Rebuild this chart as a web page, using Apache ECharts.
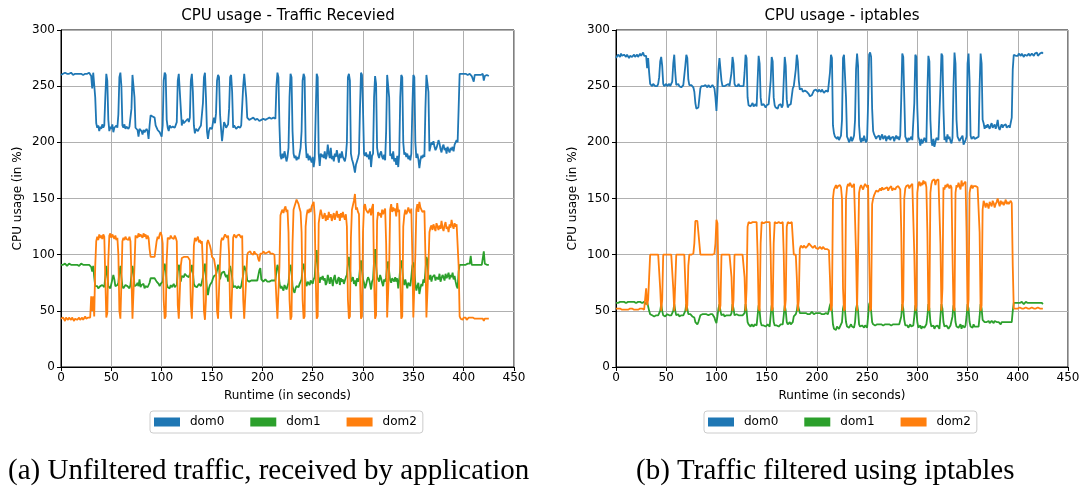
<!DOCTYPE html>
<html>
<head>
<meta charset="utf-8">
<script src="https://cdn.jsdelivr.net/npm/echarts@6/dist/echarts.min.js"></script>
<style>
html,body{margin:0;padding:0;background:#fff;}
#chart{width:1083px;height:488px;}
</style>
</head>
<body>
<div id="chart"></div>
<script>
// Sample values, one per second of runtime (t = 0 .. 425 s)
const xTicks = [0, 50, 100, 150, 200, 250, 300, 350, 400, 450];
const yTicks = [0, 50, 100, 150, 200, 250, 300];
const seriesNames = ['dom0', 'dom1', 'dom2'];

// (a) Unfiltered traffic
const dom0A = [
260,261,261,260,262,261,261,262,261,260,
262,261,260,261,261,262,261,262,261,260,
261,262,260,261,261,262,261,261,262,263,
259,248,262,261,240,217,213,215,210,214,
212,216,213,215,240,261,255,220,210,214,
212,216,209,213,212,215,213,225,258,262,
250,215,213,216,212,214,213,212,214,213,
230,260,261,240,213,212,211,205,212,211,
210,207,211,209,208,212,210,203,215,224,
223,223,222,222,215,213,211,210,209,207,
205,215,255,262,260,220,213,210,215,213,
212,214,214,213,212,218,255,261,260,230,
215,220,217,218,219,220,221,218,222,255,
261,245,215,208,212,211,210,212,213,215,
216,235,258,262,240,210,203,210,213,212,
212,218,222,217,226,255,260,258,225,212,
201,210,218,216,213,214,216,230,258,260,
245,213,215,214,212,213,214,213,213,215,
216,250,261,262,240,222,221,220,220,221,
221,222,221,220,220,221,220,219,220,220,
220,221,221,220,221,221,222,222,221,221,
221,222,222,221,250,262,258,215,188,185,
190,186,192,188,183,187,195,240,261,258,
210,190,186,188,184,187,185,190,195,210,
255,261,258,200,186,190,184,188,185,182,
187,178,185,225,261,258,190,179,190,187,
189,186,192,185,188,198,190,186,195,185,
188,183,190,187,193,188,182,190,186,192,
187,185,183,188,200,258,261,255,190,185,
182,178,173,180,183,186,190,230,262,260,
230,190,188,191,187,189,185,192,178,188,
190,240,259,252,195,189,186,190,192,187,
185,189,184,210,260,261,240,188,190,185,
192,183,186,180,188,178,190,240,260,258,
200,189,191,187,190,185,188,184,190,230,
260,258,200,186,190,185,177,184,188,186,
189,187,230,260,261,245,192,196,200,198,
201,196,193,195,198,202,199,194,191,196,
198,193,195,190,196,193,191,195,193,196,
192,198,200,202,200,230,261,262,261,262,
261,262,261,262,260,261,261,260,259,260,
254,260,261,260,261,260,259,260,259,261,
255,259,260,260,259,259
];
const dom1A = [
91,92,91,91,92,91,90,91,92,91,
91,92,91,90,91,92,91,91,90,91,
92,91,91,90,91,92,91,90,91,90,
89,85,90,80,72,71,72,70,71,72,
71,73,72,71,80,90,82,72,71,70,
74,73,82,78,72,71,73,75,85,90,
80,72,70,71,73,74,72,71,70,73,
82,90,85,72,71,73,75,72,78,71,
73,72,74,70,72,73,71,72,75,79,
78,79,80,79,78,76,75,74,72,74,
73,76,85,92,88,74,71,72,70,73,
71,72,74,71,72,73,85,91,88,76,
81,82,80,83,82,81,82,80,81,85,
91,85,74,72,73,71,72,74,73,72,
73,80,88,92,80,70,64,70,73,74,
76,79,81,80,82,86,91,88,78,82,
84,83,85,82,80,82,76,85,90,91,
80,71,70,72,71,70,72,71,70,72,
71,82,90,91,85,77,78,76,77,77,
78,77,76,77,78,77,77,86,88,78,
77,76,77,78,77,76,77,76,77,77,
76,77,76,77,85,91,88,75,70,72,
70,68,73,71,69,72,75,85,91,86,
72,68,66,70,72,73,71,74,75,78,
88,92,86,74,72,76,75,73,77,76,
74,78,80,95,104,90,78,75,80,78,
81,77,79,73,75,82,78,74,80,77,
72,79,82,76,74,78,80,73,79,76,
78,74,77,80,82,92,98,88,76,78,
80,74,77,72,79,76,78,88,95,86,
78,75,70,73,77,80,78,74,69,76,
78,95,105,90,80,78,76,82,79,75,
72,78,76,80,90,94,85,77,75,79,
78,76,80,76,79,70,77,88,95,88,
76,73,78,77,70,75,76,72,80,90,
93,88,74,68,72,75,65,70,74,72,
78,75,85,98,95,80,78,82,76,80,
79,82,77,80,81,78,83,76,79,82,
80,77,83,79,81,84,78,82,80,84,
78,81,76,72,70,85,91,92,91,90,
91,92,91,91,92,91,92,99,91,92,
91,90,91,92,91,92,91,90,91,92,
103,92,91,91,92,91
];
const dom2A = [
43,42,44,43,41,44,43,42,44,43,
42,44,43,41,43,44,42,43,44,42,
43,44,42,43,45,43,42,44,43,44,
63,50,63,45,90,112,116,113,118,115,
117,114,118,116,80,44,48,95,117,119,
115,118,116,114,117,113,115,100,50,43,
75,112,115,113,116,114,115,113,116,112,
80,43,44,90,117,118,115,119,116,118,
117,115,119,116,118,114,117,115,105,98,
97,98,99,98,105,112,116,114,118,120,
117,110,60,43,45,95,115,116,114,117,
115,116,114,117,115,112,55,43,44,90,
97,98,98,97,98,97,98,97,95,55,
43,70,108,115,112,113,116,111,113,110,
112,90,50,42,60,110,113,112,108,104,
98,97,96,95,85,50,43,44,95,112,
115,113,116,118,119,115,117,100,50,43,
70,115,118,117,115,117,116,118,117,115,
117,60,43,44,80,100,102,101,103,101,
102,100,103,101,102,100,96,94,101,102,
101,103,102,101,100,102,101,103,101,102,
101,102,100,101,60,43,44,90,135,138,
140,137,141,143,138,140,120,60,42,45,
110,140,143,146,149,147,145,141,138,120,
60,43,45,125,135,140,137,141,138,143,
145,147,135,80,43,45,128,135,140,136,
132,134,137,130,135,131,138,133,136,130,
134,137,131,135,139,133,136,130,137,133,
138,134,131,136,125,60,43,45,115,140,
144,148,154,140,142,138,136,80,43,45,
120,143,145,140,141,137,139,141,135,142,
145,80,43,46,130,138,135,137,133,140,
136,139,141,110,44,43,90,140,145,138,
142,139,141,134,146,138,140,80,43,45,
125,135,140,136,138,142,139,137,141,100,
44,43,100,140,145,138,147,142,140,138,
137,139,100,44,43,90,120,124,126,122,
127,124,121,128,125,122,126,123,130,124,
121,126,129,123,125,120,127,124,131,126,
123,128,125,127,126,90,45,43,44,42,
44,43,44,42,43,44,43,44,43,44,
44,43,44,43,44,43,44,43,44,43,
41,43,44,43,44,43
];

// (b) Traffic filtered using iptables
const dom0B = [
275,276,278,277,276,279,277,276,278,277,
276,278,277,275,277,278,276,277,278,276,
277,278,276,277,279,277,278,280,277,276,
277,266,275,262,252,251,250,252,251,250,
251,250,252,258,272,276,268,252,250,251,
252,250,251,252,250,251,254,270,278,262,
251,250,252,250,251,249,250,251,252,268,
278,275,256,251,250,251,250,249,245,235,
230,229,231,232,248,250,251,250,249,251,
250,249,251,250,249,250,251,250,248,240,
228,245,265,275,274,255,250,251,250,249,
251,250,252,250,251,262,276,270,252,250,
251,250,252,250,251,250,251,250,262,278,
275,240,233,234,232,233,235,232,233,234,
232,255,277,270,240,233,232,234,233,231,
233,232,234,233,255,276,272,240,233,231,
232,230,233,232,234,231,233,255,276,268,
238,231,233,232,234,233,248,250,251,265,
278,272,255,247,246,248,245,244,246,247,
245,244,243,241,240,242,244,246,245,247,
246,245,247,246,245,247,246,244,245,246,
247,245,246,262,278,275,215,208,205,204,
203,205,202,204,206,220,275,278,279,240,
205,203,200,202,205,201,203,206,220,265,
279,268,215,203,200,204,201,206,202,200,
203,235,278,280,276,230,210,207,206,203,
205,204,206,202,205,207,203,204,206,201,
205,203,206,202,204,203,205,201,204,206,
203,205,202,206,240,279,276,240,205,203,
200,204,202,203,205,202,201,235,278,276,
230,205,202,197,203,199,201,204,203,200,
245,277,272,220,201,197,203,196,200,204,
203,202,201,250,279,277,230,202,205,200,
207,203,205,201,199,204,250,280,270,220,
205,204,201,203,202,206,198,200,202,205,
270,279,255,206,203,204,205,203,202,204,
203,205,250,279,270,220,217,212,215,213,
216,214,212,215,217,213,214,216,212,215,
220,213,211,214,216,213,215,214,216,213,
214,215,213,214,222,265,278,279,277,278,
277,279,278,277,279,278,276,278,279,277,
278,279,277,278,279,278,277,279,278,280,
277,278,279,278,280,279
];
const dom1B = [
57,58,57,58,58,57,58,57,58,58,
57,58,58,57,58,59,58,57,58,58,
57,58,58,57,58,58,57,58,58,57,
56,58,54,50,47,46,46,47,45,46,
46,47,46,47,50,56,50,46,46,45,
46,47,46,46,45,46,47,50,56,50,
46,46,47,45,46,46,47,46,46,50,
56,52,47,46,47,46,45,46,44,40,
39,38,40,41,46,47,47,46,47,48,
47,47,46,47,47,46,47,46,44,41,
39,45,52,56,50,46,46,47,45,46,
46,45,46,47,46,48,56,52,46,46,
47,46,46,47,46,45,46,46,48,56,
50,40,38,37,36,38,37,36,38,37,
37,46,55,50,40,37,36,37,38,36,
37,38,37,36,46,55,52,40,37,36,
37,38,36,37,38,37,38,46,55,50,
40,38,39,40,38,39,40,45,46,47,
50,56,52,48,49,48,47,48,49,48,
48,47,48,47,48,49,48,47,48,48,
47,48,47,48,49,47,48,47,47,48,
48,47,48,55,57,50,38,34,35,33,
36,35,34,36,37,40,52,56,50,40,
36,37,35,36,38,36,37,35,40,52,
56,50,38,36,35,37,36,35,37,36,
35,45,56,58,50,40,38,38,37,38,
38,37,38,37,38,38,37,38,38,37,
38,37,38,38,37,38,38,37,38,37,
38,37,38,39,45,56,52,42,37,36,
37,35,36,38,36,35,37,45,55,50,
40,35,36,37,34,36,37,35,36,38,
45,56,52,40,36,35,37,34,36,35,
37,36,34,45,56,52,40,36,35,37,
36,34,35,37,36,45,55,52,40,36,
37,35,36,38,34,37,36,35,37,45,
56,52,40,36,37,35,38,36,37,36,
37,36,45,56,52,42,41,40,41,40,
40,41,39,40,41,40,39,41,40,40,
41,40,39,38,40,41,40,39,40,41,
40,39,40,41,40,50,57,58,57,58,
57,58,57,57,58,57,56,57,58,57,
57,56,57,58,57,56,57,58,57,56,
57,58,57,56,57,56
];
const dom2B = [
52,51,52,51,52,51,51,52,51,52,
51,52,51,51,52,51,52,51,51,52,
51,52,51,51,52,51,52,51,51,51,
70,55,60,80,100,100,100,100,100,100,
100,100,100,99,70,50,60,100,100,100,
100,100,100,100,100,100,100,70,50,75,
100,100,100,100,100,100,100,100,100,75,
50,55,90,100,100,100,100,101,110,130,
131,130,129,110,100,100,100,100,100,100,
100,100,100,100,100,100,100,100,101,110,
131,128,80,50,55,100,100,100,100,100,
100,100,100,100,100,80,50,60,100,100,
100,100,100,100,100,100,100,100,80,50,
70,125,129,129,128,129,129,128,129,129,
129,100,52,50,110,129,129,128,129,129,
128,129,129,129,100,50,52,110,129,129,
128,129,129,129,128,129,129,100,50,60,
125,129,129,128,129,129,129,100,100,100,
80,50,60,105,108,107,106,108,107,106,
107,108,110,111,108,107,106,107,108,106,
107,105,106,107,106,105,107,106,105,106,
105,106,104,80,50,55,150,158,160,162,
159,161,160,162,160,150,70,50,52,150,
160,163,161,164,162,160,161,163,162,100,
50,100,155,160,162,163,158,161,163,162,
160,162,100,50,52,145,150,153,155,157,
158,156,157,159,157,160,158,157,159,158,
160,157,159,158,161,157,159,160,158,160,
159,161,160,158,120,50,60,150,159,161,
160,162,159,161,160,163,162,100,50,55,
155,163,165,161,164,162,166,163,165,160,
120,50,52,155,163,166,165,167,162,166,
165,167,168,110,50,70,160,158,162,160,
163,161,159,162,160,100,52,50,155,162,
160,164,163,158,166,161,163,162,165,120,
50,60,155,160,162,159,161,160,161,162,
160,161,120,50,55,140,148,145,142,146,
144,141,147,145,143,148,146,142,145,147,
150,146,143,148,145,147,144,146,149,145,
147,145,146,148,146,90,52,52,52,53,
52,52,53,52,52,53,52,52,53,52,
52,53,52,52,53,52,52,53,52,52,
53,52,52,53,52,52
];

const colors = ['#1f77b4', '#2ca02c', '#ff7f0e'];
const FONT = 'DejaVu Sans';

function pairs(vals) { return vals.map((v, i) => [i, v]); }

const grids = [
  {left: 61, top: 30, width: 453, height: 337},
  {left: 616, top: 30, width: 452, height: 337}
];

function xAx(gi) {
  return {
    gridIndex: gi, type: 'value', min: xTicks[0], max: xTicks[xTicks.length - 1], interval: 50,
    name: 'Runtime (in seconds)', nameLocation: 'middle', nameGap: 23,
    nameTextStyle: {fontFamily: FONT, fontSize: 12, color: '#000'},
    axisLine: {show: true, onZero: false, lineStyle: {color: '#000', width: 1}},
    axisTick: {show: true, inside: false, length: 4, lineStyle: {color: '#000'}},
    axisLabel: {fontFamily: FONT, fontSize: 12, color: '#000', margin: 5},
    splitLine: {show: true, lineStyle: {color: '#b0b0b0', width: 1}}
  };
}
function yAx(gi) {
  return {
    gridIndex: gi, type: 'value', min: yTicks[0], max: yTicks[yTicks.length - 1], interval: 50,
    name: 'CPU usage (in %)', nameLocation: 'middle', nameGap: 37, nameRotate: 90,
    nameTextStyle: {fontFamily: FONT, fontSize: 12, color: '#000'},
    axisLine: {show: true, onZero: false, lineStyle: {color: '#000', width: 1}},
    axisTick: {show: true, inside: false, length: 4, lineStyle: {color: '#000'}},
    axisLabel: {fontFamily: FONT, fontSize: 12, color: '#000', margin: 6},
    splitLine: {show: true, lineStyle: {color: '#b0b0b0', width: 1}}
  };
}

function mk(name, vals, gi, ci) {
  return {
    name: name, type: 'line', xAxisIndex: gi, yAxisIndex: gi,
    data: pairs(vals), showSymbol: false, symbol: 'none',
    lineStyle: {color: colors[ci], width: 1.8}, itemStyle: {color: colors[ci]},
    sampling: null, animation: false, z: 2 + ci
  };
}

function legend(left) {
  return {
    data: seriesNames, left: left, top: 411, orient: 'horizontal',
    icon: 'rect', itemWidth: 26, itemHeight: 9, itemGap: 26,
    borderColor: '#cccccc', borderWidth: 1, borderRadius: 3, padding: [5, 6, 5, 4],
    textStyle: {fontFamily: FONT, fontSize: 12, color: '#000', padding: [0, 0, 0, 5]},
    selectedMode: false
  };
}

const chart = echarts.init(document.getElementById('chart'), null, {renderer: 'canvas'});
chart.setOption({
  backgroundColor: '#fff',
  animation: false,
  grid: grids.map(g => Object.assign({show: true, borderColor: '#000', borderWidth: 1, backgroundColor: '#fff'}, g)),
  xAxis: [xAx(0), xAx(1)],
  yAxis: [yAx(0), yAx(1)],
  legend: [legend(150), legend(704)],
  series: [
    mk('dom0', dom0A, 0, 0), mk('dom1', dom1A, 0, 1), mk('dom2', dom2A, 0, 2),
    mk('dom0', dom0B, 1, 0), mk('dom1', dom1B, 1, 1), mk('dom2', dom2B, 1, 2)
  ],
  graphic: [
    {type: 'text', x: 288, y: 16, style: {text: 'CPU usage - Traffic Recevied', font: '15px "DejaVu Sans"', fill: '#000', textAlign: 'center', textVerticalAlign: 'middle'}},
    {type: 'text', x: 842, y: 16, style: {text: 'CPU usage - iptables', font: '15px "DejaVu Sans"', fill: '#000', textAlign: 'center', textVerticalAlign: 'middle'}},
    {type: 'text', x: 8, y: 471, style: {text: '(a) Unfiltered traffic, received by application', font: '29px "Liberation Serif"', fill: '#000', textAlign: 'left', textVerticalAlign: 'middle'}},
    {type: 'text', x: 636, y: 471, style: {text: '(b) Traffic filtered using iptables', font: '29px "Liberation Serif"', fill: '#000', textAlign: 'left', textVerticalAlign: 'middle'}}
  ]
});
</script>
</body>
</html>
